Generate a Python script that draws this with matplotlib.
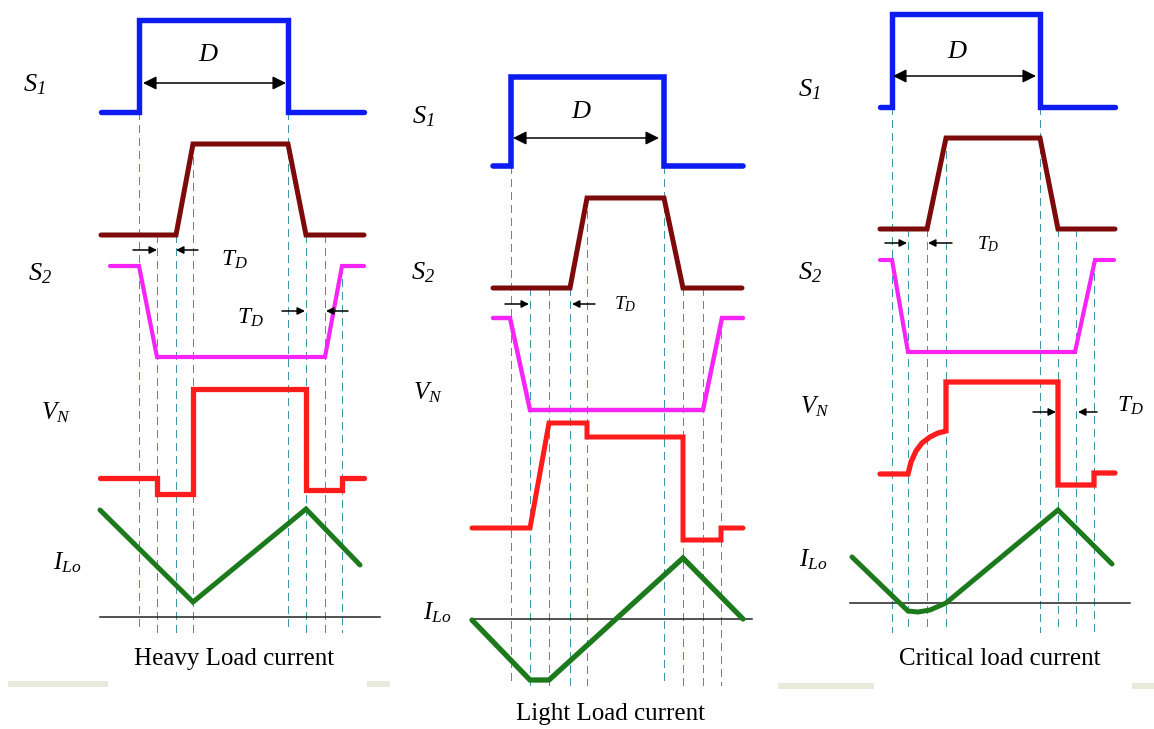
import matplotlib
matplotlib.use('Agg')
import matplotlib.pyplot as plt
from matplotlib.patches import Rectangle

plt.rcParams['font.family'] = ['Liberation Serif', 'DejaVu Serif']
plt.rcParams['mathtext.fontset'] = 'custom'
plt.rcParams['mathtext.rm'] = 'Liberation Serif:italic'
plt.rcParams['mathtext.it'] = 'Liberation Serif:italic'

# waveform vertices, image coordinates (x right, y down)
# heavy load panel
heavy_s1_x = [101, 139, 139, 288, 288, 364]
heavy_s1_y = [112, 112, 20, 20, 112, 112]
heavy_g2_x = [101, 176, 193, 288, 306, 364]
heavy_g2_y = [235, 235, 144, 144, 235, 235]
heavy_s2_x = [110, 139, 157, 325, 342, 364]
heavy_s2_y = [266, 266, 357, 357, 266, 266]
heavy_vn_x = [100, 157, 157, 193, 193, 306, 306, 342, 342, 364]
heavy_vn_y = [478, 478, 494, 494, 389, 389, 490, 490, 478, 478]
heavy_il_x = [100, 193, 306, 360]
heavy_il_y = [510, 602, 509, 565]
heavy_grid_x = [139, 157, 176, 193, 288, 306, 325, 342]
heavy_grid_top = [112, 235, 235, 144, 112, 235, 235, 266]

# light load panel
light_s1_x = [493, 511, 511, 664, 664, 743]
light_s1_y = [166, 166, 77, 77, 166, 166]
light_g2_x = [493, 570, 587, 664, 683, 742]
light_g2_y = [288, 288, 198, 198, 288, 288]
light_s2_x = [493, 510, 530, 703, 722, 743]
light_s2_y = [318, 318, 410, 410, 318, 318]
light_vn_x = [472, 530, 549, 587, 587, 683, 683, 721, 721, 743]
light_vn_y = [528, 528, 423, 423, 437, 437, 540, 540, 528, 528]
light_il_x = [472, 530, 549, 683, 743]
light_il_y = [620, 680, 680, 558, 619]
light_grid_x = [511, 530, 549, 570, 587, 664, 683, 703, 721]
light_grid_top = [166, 288, 288, 288, 198, 166, 288, 288, 318]

# critical load panel
crit_s1_x = [880, 892, 892, 1040, 1040, 1115]
crit_s1_y = [107, 107, 14, 14, 107, 107]
crit_g2_x = [880, 927, 946, 1040, 1058, 1115]
crit_g2_y = [229, 229, 138, 138, 229, 229]
crit_s2_x = [880, 892, 908, 1075, 1095, 1114]
crit_s2_y = [260, 260, 352, 352, 260, 260]
crit_vn_x = [880, 908, 911, 916, 922, 930, 938, 946, 946, 1058, 1058, 1094, 1094, 1115]
crit_vn_y = [474, 474, 462, 451, 443, 437, 433, 431, 382, 382, 485, 485, 473, 473]
crit_il_x = [852, 908, 918, 930, 946, 1058, 1112]
crit_il_y = [557, 611, 612, 610, 603, 510, 564]
crit_grid_x = [892, 908, 927, 946, 1040, 1058, 1076, 1094]
crit_grid_top = [107, 229, 229, 138, 107, 229, 229, 260]

BLUE = '#0c1cf0'
MAROON = '#7c0a0a'
MAGENTA = '#f624f6'
RED = '#ff1c1c'
GREEN = '#1c7a1c'
TEAL = '#3d98a8'

fig = plt.figure(figsize=(11.54, 7.29), dpi=100)
ax = fig.add_axes([0, 0, 1, 1])
ax.set_xlim(0, 1154)
ax.set_ylim(729, 0)
ax.axis('off')

# faint page-edge bands
for x0, x1, y0 in [(8, 108, 681), (367, 390, 681), (778, 874, 683), (1132, 1154, 683)]:
	ax.add_patch(Rectangle((x0, y0), x1 - x0, 6, color='#e9e9dc', lw=0))


def draw_panel(grid_x, grid_top, grid_bottom, traces, base):
	for x, top in zip(grid_x, grid_top):
		ax.plot([x, x], [top, grid_bottom], color=TEAL, lw=0.9,
				ls=(0, (6, 4)), antialiased=False, zorder=1)
	bx0, bx1, by = base
	ax.plot([bx0, bx1], [by, by], color='#222222', lw=1.1, zorder=2)
	for xs, ys, col, lw in traces:
		ax.plot(xs, ys, color=col, lw=lw, solid_joinstyle='miter',
				solid_capstyle='round', zorder=3)


draw_panel(heavy_grid_x, heavy_grid_top, 632, [
	(heavy_s1_x, heavy_s1_y, BLUE, 3.9),
	(heavy_g2_x, heavy_g2_y, MAROON, 3.6),
	(heavy_s2_x, heavy_s2_y, MAGENTA, 3.0),
	(heavy_vn_x, heavy_vn_y, RED, 3.8),
	(heavy_il_x, heavy_il_y, GREEN, 3.6),
], (100, 380, 617))

draw_panel(light_grid_x, light_grid_top, 685, [
	(light_s1_x, light_s1_y, BLUE, 4.0),
	(light_g2_x, light_g2_y, MAROON, 3.6),
	(light_s2_x, light_s2_y, MAGENTA, 3.2),
	(light_vn_x, light_vn_y, RED, 3.6),
	(light_il_x, light_il_y, GREEN, 3.8),
], (472, 752, 619))

draw_panel(crit_grid_x, crit_grid_top, 632, [
	(crit_s1_x, crit_s1_y, BLUE, 3.9),
	(crit_g2_x, crit_g2_y, MAROON, 3.6),
	(crit_s2_x, crit_s2_y, MAGENTA, 3.0),
	(crit_vn_x, crit_vn_y, RED, 3.8),
	(crit_il_x, crit_il_y, GREEN, 3.6),
], (850, 1130, 603))


def arrow(x0, x1, y, style='-|>', scale=11):
	ax.annotate('', xy=(x1, y), xytext=(x0, y),
				arrowprops=dict(arrowstyle=style, color='black', lw=1.1,
								mutation_scale=scale, shrinkA=0, shrinkB=0))


# duty-cycle arrows
arrow(143, 286, 83, '<|-|>', 20)
arrow(513, 659, 138, '<|-|>', 20)
arrow(893, 1036, 76, '<|-|>', 20)

# dead-time arrows
arrow(133, 157, 250)
arrow(198, 176, 250)
arrow(282, 305, 311)
arrow(348, 326, 311)
arrow(505, 529, 304)
arrow(595, 572, 304)
arrow(885, 907, 243)
arrow(952, 928, 243)
arrow(1033, 1056, 412)
arrow(1097, 1078, 412)

labels = [
	(34, 85, r'$S_1$', 19), (40, 274, r'$S_2$', 19),
	(56, 413, r'$V_N$', 18), (67, 563, r'$I_{Lo}$', 18),
	(423, 117, r'$S_1$', 19), (423, 273, r'$S_2$', 19),
	(428, 393, r'$V_N$', 18), (437, 613, r'$I_{Lo}$', 18),
	(809, 90, r'$S_1$', 19), (810, 273, r'$S_2$', 19),
	(815, 407, r'$V_N$', 18), (813, 560, r'$I_{Lo}$', 18),
	(208, 55, r'$D$', 19), (581, 112, r'$D$', 19), (957, 52, r'$D$', 19),
	(234, 260, r'$T_D$', 17), (250, 318, r'$T_D$', 17),
	(625, 304, r'$T_D$', 14), (988, 244, r'$T_D$', 14),
	(1130, 406, r'$T_D$', 17),
]
for x, y, s, fs in labels:
	ax.text(x, y, s, fontsize=fs, ha='center', va='center', zorder=4)

ax.text(234, 659, 'Heavy Load current', fontsize=18, ha='center', va='center')
ax.text(611, 714, 'Light Load current', fontsize=18, ha='center', va='center')
ax.text(1000, 659, 'Critical load current', fontsize=18, ha='center', va='center')

fig.savefig('out.png', dpi=100)
plt.close(fig)
